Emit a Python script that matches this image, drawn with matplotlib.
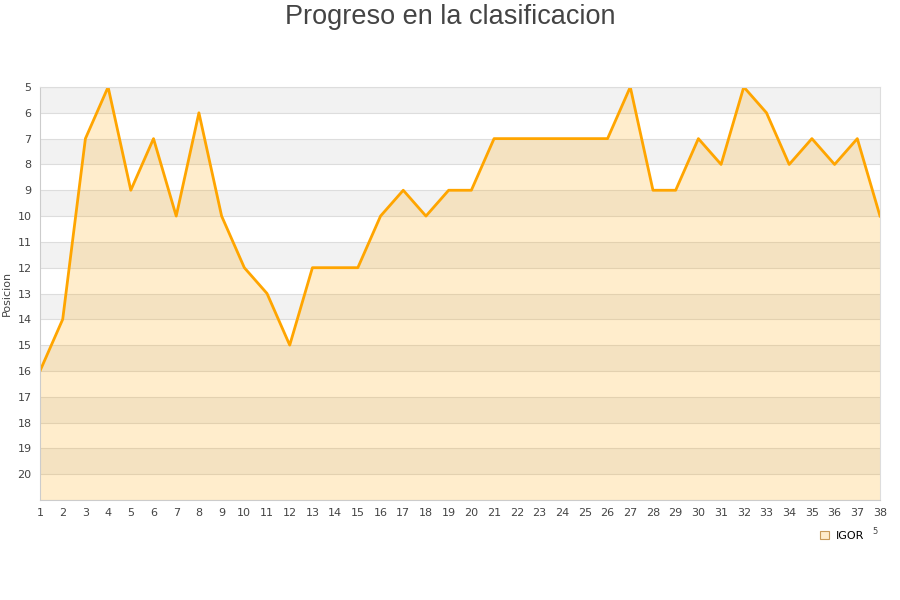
import matplotlib.pyplot as plt
from matplotlib.patches import Patch

jornadas = list(range(1, 39))
posicion = [16, 14, 7, 5, 9, 7, 10, 6, 10, 12, 13, 15, 12, 12, 12, 10, 9, 10, 9, 9,
            7, 7, 7, 7, 7, 7, 5, 9, 9, 7, 8, 5, 6, 8, 7, 8, 7, 10]
y_ticks = list(range(5, 21))

fig = plt.figure(figsize=(9, 6), dpi=100)
ax = fig.add_axes([40/900, 1-500/600, 840/900, 413/600])

# bandas alternas
for y in range(5, 21, 2):
    ax.axhspan(y, y + 1, color='#f2f2f2', zorder=0, lw=0)
for y in range(5, 22):
    ax.axhline(y, color='#dddddd', lw=0.8, zorder=0.5)

ax.fill_between(jornadas, posicion, 21, color='#ffa500', alpha=0.2, lw=0, zorder=1)
ax.plot(jornadas, posicion, color='#ffa500', lw=2.0, zorder=2)

ax.set_xlim(1, 38)
ax.set_ylim(21, 5)
ax.set_xticks(jornadas)
ax.set_yticks(y_ticks)
ax.tick_params(length=0, labelsize=8, colors='#444444', pad=6)
ax.set_ylabel('Posicion', fontsize=8, color='#444444', labelpad=4)
for s in ax.spines.values():
    s.set_color('#dddddd')
ax.spines['left'].set_color('#cccccc')
ax.spines['bottom'].set_color('#cccccc')

fig.text(0.5, 1-17/600, 'Progreso en la clasificacion', fontsize=19.5, color='#444444',
         ha='center', va='center', family='Liberation Sans')

fig.legend(handles=[Patch(facecolor='#ffeccc', edgecolor='#c89a5a', lw=0.8)], labels=['IGOR'],
           loc='center', bbox_to_anchor=(842/900, 1-536/600), frameon=False, fontsize=8,
           handlelength=0.8, handleheight=0.8, handletextpad=0.6)
fig.text(875/900, 1-532/600, '5', fontsize=6, color='#444444', ha='center', va='center')

fig.savefig('out.png', dpi=100)
